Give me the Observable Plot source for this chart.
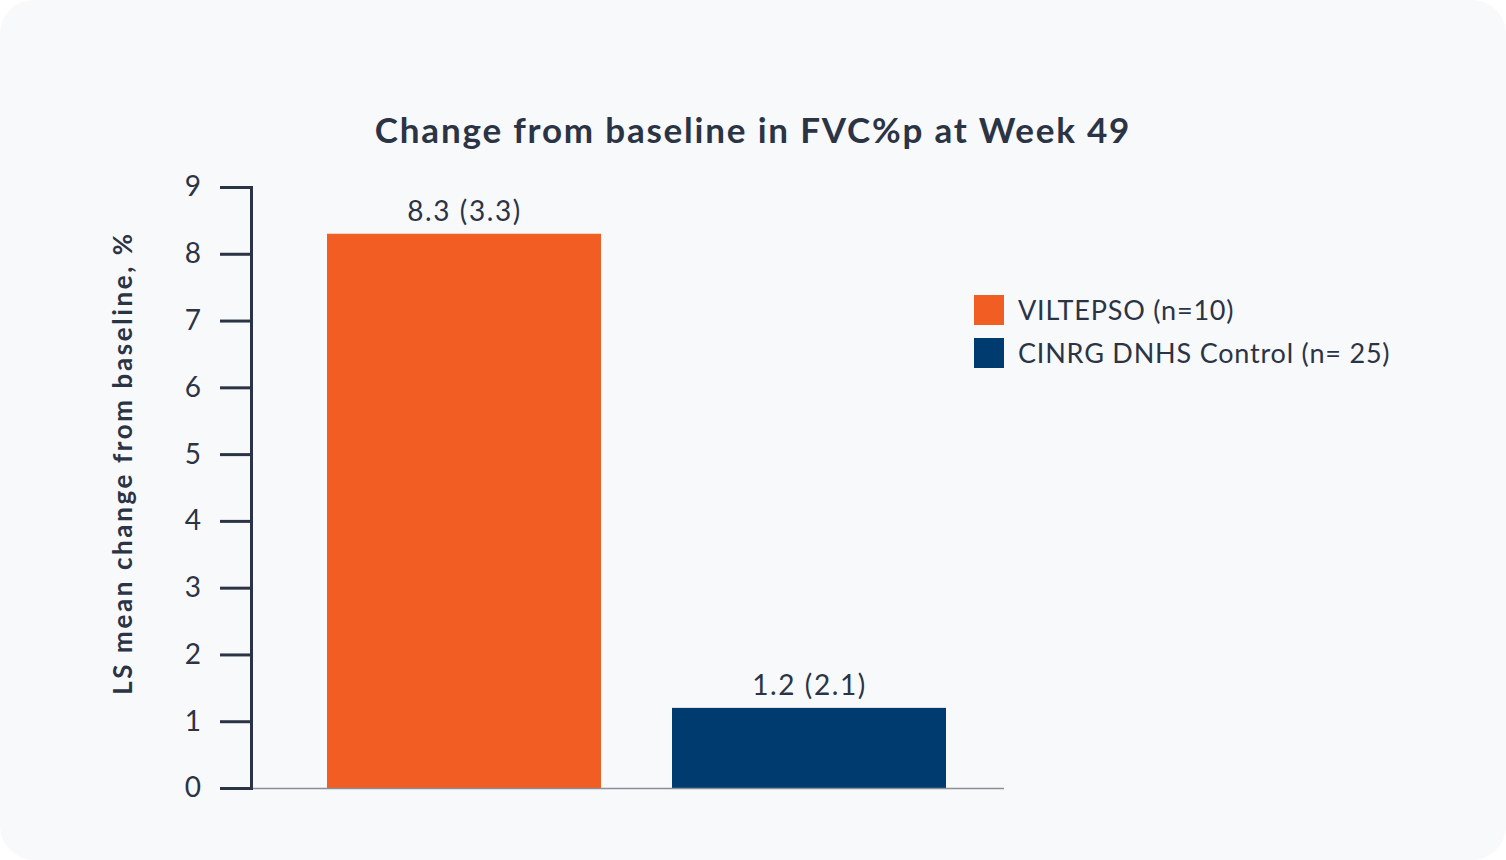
<!DOCTYPE html>
<html>
<head>
<meta charset="utf-8">
<script src="https://cdn.jsdelivr.net/npm/d3@7"></script>
<script src="https://cdn.jsdelivr.net/npm/@observablehq/plot@0.6"></script>
<style>
  html, body { margin: 0; padding: 0; background: #ffffff; }
  #card {
    position: absolute; left: 0; top: 0; width: 1506px; height: 860px;
    background: #f8f9fb; border-radius: 34px; overflow: hidden;
    font-family: "Lato", "Open Sans", sans-serif; color: #2b3445;
  }
  #title {
    position: absolute; left: 0; width: 1506px; top: 108px; text-align: center;
    font-size: 35px; font-weight: 700; color: #2b3445; letter-spacing: 1.8px;
  }
  #ylabel {
    position: absolute; left: 122px; top: 463px; transform: translate(-50%, -50%) rotate(-90deg);
    white-space: nowrap; font-size: 26px; font-weight: 700; color: #2b3445; letter-spacing: 2.6px;
  }
  #chart { position: absolute; left: 0; top: 0; }
  #legend { position: absolute; left: 974px; top: 288px; }
  .item { display: flex; align-items: center; height: 43px; font-size: 27px; color: #2b3445; letter-spacing: 0.8px; }
  .sw { width: 30px; height: 30px; margin-right: 14px; }
</style>
</head>
<body>
<div id="card">
  <div id="chart"></div>
  <div id="title"></div>
  <div id="ylabel"></div>
  <div id="legend"></div>
</div>
<script>
const title = "Change from baseline in FVC%p at Week 49";
const yLabel = "LS mean change from baseline, %";
const groups = ["VILTEPSO (n=10)", "CINRG DNHS Control (n= 25)"];
const means = [8.3, 1.2];
const sds = [3.3, 2.1];
const colors = ["#f15d22", "#003b6f"];
const yTicks = [0, 1, 2, 3, 4, 5, 6, 7, 8, 9];

const data = groups.map((g, i) => ({group: g, value: means[i], label: `${means[i]} (${sds[i]})`}));

document.getElementById("title").textContent = title;
document.getElementById("ylabel").textContent = yLabel;

const ink = "#2b3445";
const plot = Plot.plot({
  width: 1506,
  height: 860,
  marginTop: 187,
  marginBottom: 72,
  marginLeft: 251,
  marginRight: 502,
  style: {background: "transparent", fontFamily: "Lato, 'Open Sans', sans-serif", color: ink, letterSpacing: "1.6px"},
  x: {domain: groups, paddingInner: 0.206, paddingOuter: 0.194, align: 0.567, axis: null},
  y: {domain: [0, 9], axis: null},
  color: {domain: groups, range: colors},
  marks: [
    Plot.barY(data, {x: "group", y: "value", fill: "group"}),
    Plot.ruleY([0], {stroke: "#8a8f98", strokeWidth: 1.5}),
    Plot.axisY({ticks: yTicks, tickSize: 31, tickPadding: 18, strokeWidth: 3, stroke: ink, label: null, fontSize: 28, fill: ink, tickFormat: d => d}),
    Plot.frame({anchor: "left", stroke: ink, strokeWidth: 3}),
    Plot.text(data, {x: "group", y: "value", text: "label", dy: -22, fontSize: 28, fill: ink})
  ]
});
document.getElementById("chart").appendChild(plot);

const legend = document.getElementById("legend");
groups.forEach((g, i) => {
  const it = document.createElement("div");
  it.className = "item";
  const sw = document.createElement("div");
  sw.className = "sw";
  sw.style.background = colors[i];
  const t = document.createElement("span");
  t.textContent = g;
  it.appendChild(sw); it.appendChild(t);
  legend.appendChild(it);
});
</script>
</body>
</html>
